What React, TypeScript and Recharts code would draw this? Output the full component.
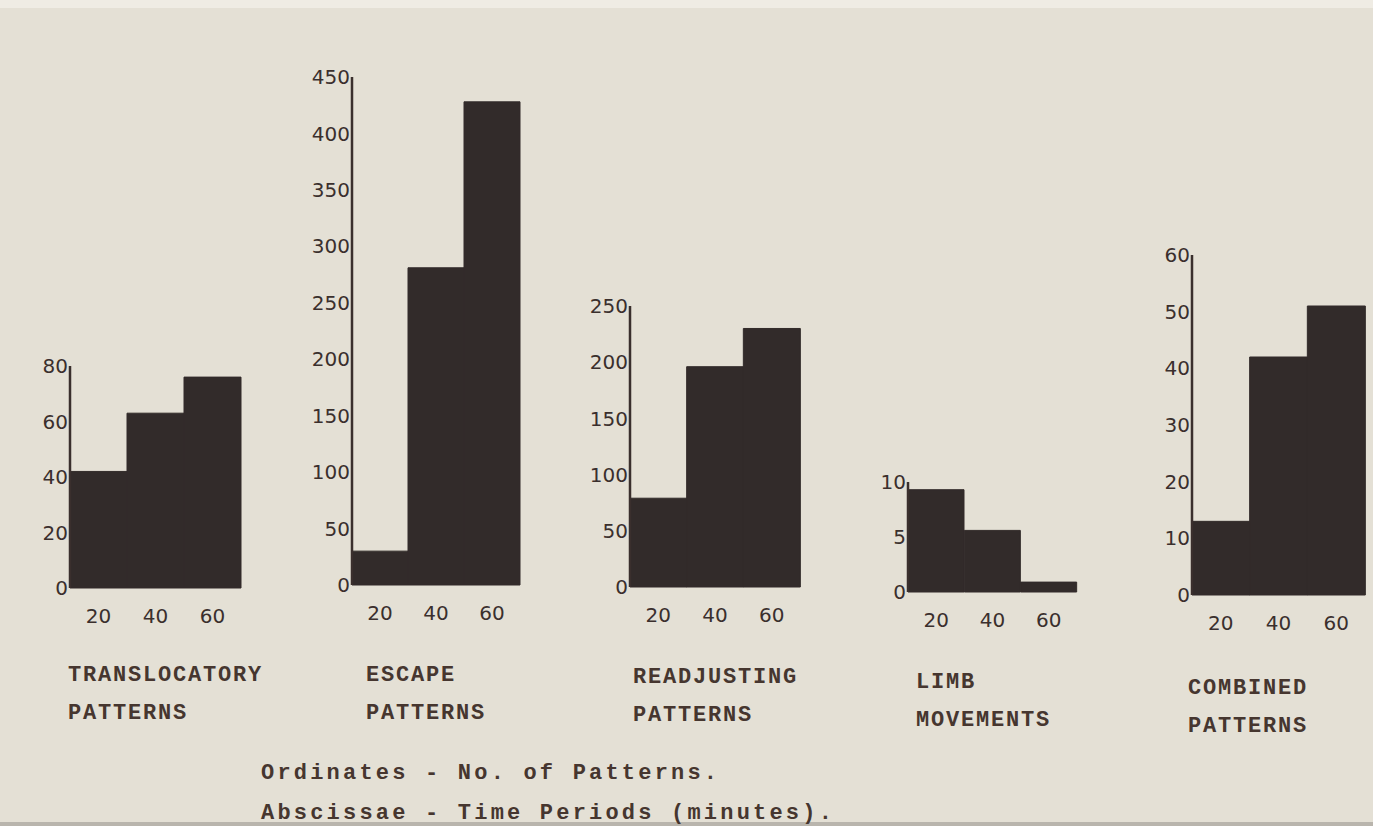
import React from "react";
import { BarChart, Bar, XAxis, YAxis } from "recharts";

// time periods (minutes) on the abscissa
const periods = ["20", "40", "60"];

const translocatory = [42, 63, 76];
const escape = [30, 281, 428];
const readjusting = [79, 196, 230];
const limb = [9.3, 5.6, 0.9];
const combined = [13, 42, 51];

const translocatoryTicks = [0, 20, 40, 60, 80];
const escapeTicks = [0, 50, 100, 150, 200, 250, 300, 350, 400, 450];
const readjustingTicks = [0, 50, 100, 150, 200, 250];
const limbTicks = [0, 5, 10];
const combinedTicks = [0, 10, 20, 30, 40, 50, 60];

const INK = "#3a2f2d";
const BAR = "#322b2a";
const PAPER = "#e4e0d5";
const TYPE = "'Liberation Mono', 'DejaVu Sans Mono', monospace";
const LETTER = "'DejaVu Sans', sans-serif";

const YW = 60;
const MT = 20;
const XH = 50;

type PanelProps = {
  values: number[];
  ticks: number[];
  axisX: number;
  topY: number;
  zeroY: number;
  rightX: number;
};

const Panel: React.FC<PanelProps> = ({ values, ticks, axisX, topY, zeroY, rightX }) => {
  const data = periods.map((p, i) => ({ t: p, v: values[i] }));
  const plotW = rightX - axisX;
  const plotH = zeroY - topY;
  const tickStyle = { fontFamily: LETTER, fontSize: 20, fill: INK };
  return (
    <div style={{ position: "absolute", left: axisX - YW, top: topY - MT }}>
      <BarChart
        width={YW + plotW + 10}
        height={MT + plotH + XH}
        data={data}
        margin={{ top: MT, right: 10, left: 0, bottom: 0 }}
        barCategoryGap={0}
      >
        <XAxis dataKey="t" axisLine={false} tickLine={false} tickSize={0} tickMargin={21} height={XH} tick={tickStyle} interval={0} />
        <YAxis
          width={YW}
          domain={[0, ticks[ticks.length - 1]]}
          ticks={ticks}
          interval={0}
          tickLine={false}
          tickSize={0}
          tickMargin={2}
          axisLine={{ stroke: INK, strokeWidth: 2.5 }}
          tick={tickStyle}
        />
        <Bar dataKey="v" fill={BAR} stroke={BAR} strokeWidth={1} isAnimationActive={false} />
      </BarChart>
    </div>
  );
};

const titleStyle: React.CSSProperties = {
  position: "absolute",
  fontFamily: TYPE,
  fontWeight: "bold",
  fontSize: 22,
  letterSpacing: 1.8,
  color: "#46362f",
  lineHeight: "38px",
  whiteSpace: "pre",
  margin: 0,
};

const Title: React.FC<{ x: number; y: number; lines: string[] }> = ({ x, y, lines }) => (
  <div style={{ ...titleStyle, left: x, top: y }}>
    {lines.map((l) => (
      <div key={l}>{l}</div>
    ))}
  </div>
);

export default function App() {
  return (
    <div style={{ position: "fixed", left: 0, top: 0, width: 1373, height: 826, background: PAPER, overflow: "hidden" }}>
      <div style={{ position: "absolute", left: 0, top: 0, width: 1373, height: 8, background: "#efece4" }} />
      <div style={{ position: "absolute", left: 0, bottom: 0, width: 1373, height: 4, background: "#b9b5ad" }} />

      <Panel values={translocatory} ticks={translocatoryTicks} axisX={70} topY={366} zeroY={588} rightX={241} />
      <Panel values={escape} ticks={escapeTicks} axisX={352} topY={77} zeroY={585} rightX={520} />
      <Panel values={readjusting} ticks={readjustingTicks} axisX={630} topY={306} zeroY={587} rightX={800} />
      <Panel values={limb} ticks={limbTicks} axisX={908} topY={482} zeroY={592} rightX={1077} />
      <Panel values={combined} ticks={combinedTicks} axisX={1192} topY={255} zeroY={595} rightX={1365} />

      <Title x={68} y={657} lines={["TRANSLOCATORY", "PATTERNS"]} />
      <Title x={366} y={657} lines={["ESCAPE", "PATTERNS"]} />
      <Title x={633} y={659} lines={["READJUSTING", "PATTERNS"]} />
      <Title x={916} y={664} lines={["LIMB", "MOVEMENTS"]} />
      <Title x={1188} y={670} lines={["COMBINED", "PATTERNS"]} />

      <div style={{ ...titleStyle, left: 261, top: 754, fontSize: 22, letterSpacing: 3.2, lineHeight: "40px" }}>
        <div>Ordinates - No. of Patterns.</div>
        <div>Abscissae - Time Periods (minutes).</div>
      </div>
    </div>
  );
}
